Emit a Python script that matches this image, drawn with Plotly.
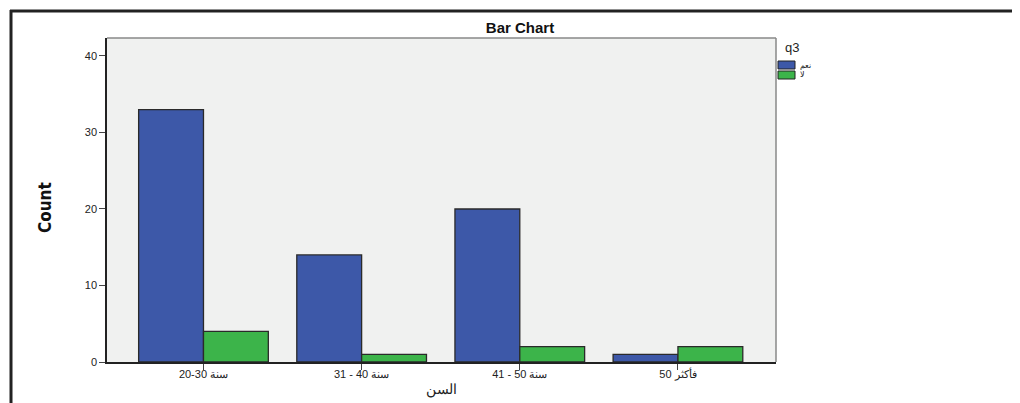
import plotly.graph_objects as go

categories = ["20-30 سنة", "31 - 40 سنة", "41 - 50 سنة", "50 فأكثر"]
yes_counts = [33, 14, 20, 1]
no_counts = [4, 1, 2, 2]
series_names = ["نعم", "لا"]
series_colors = ["#3d58a8", "#3cb44a"]
y_ticks = [0, 10, 20, 30, 40]

OFF = 8  # default page body margin
W, H = 1020 - OFF, 403 - OFF
L, T = 107 - OFF, 38 - OFF
R = W - (776 - OFF)
B = H - (362 - OFF)

def px_x(px):
    return (px - OFF - L) / (W - L - R)

def px_y(py):
    return (H - B - (py - OFF)) / (H - T - B)

fig = go.Figure()
for name, vals, col in zip(series_names, [yes_counts, no_counts], series_colors):
    fig.add_trace(go.Bar(x=categories, y=vals, name=name,
                         marker=dict(color=col, line=dict(color="#2a2a2a", width=1.3))))

fig.update_layout(
    width=W, height=H,
    margin=dict(l=L, r=R, t=T, b=B),
    paper_bgcolor="white",
    plot_bgcolor="#f0f1f0",
    barmode="group",
    bargap=0.18,
    bargroupgap=0,
    title=dict(text="<b>Bar Chart</b>", xref="paper", x=px_x(520), xanchor="center",
               yref="container", y=1 - (28 - OFF) / H, yanchor="middle",
               font=dict(family="Liberation Sans, Arial", size=15, color="#111111")),
    font=dict(family="Liberation Sans, Arial", color="#222222"),
    showlegend=False,
    xaxis=dict(
        range=[-0.61, 3.62],
        automargin=False,
        showline=True, linecolor="#222222", linewidth=1.5,
        ticks="outside", ticklen=6, tickcolor="#444444",
        ticklabelstandoff=-5,
        tickfont=dict(size=11, color="#222222"),
        title=dict(text="السن", font=dict(size=14, color="#222222"), standoff=4),
        showgrid=False,
    ),
    yaxis=dict(
        range=[0, 42.35],
        automargin=False,
        tickvals=y_ticks,
        showline=True, linecolor="#222222", linewidth=1.5,
        ticks="outside", ticklen=6, tickcolor="#444444",
        tickfont=dict(size=11, color="#222222"),
        showgrid=False, zeroline=False,
    ),
)

# y-axis title, placed like SPSS (slightly below centre)
fig.add_annotation(text="<b>Count</b>", xref="paper", yref="paper", x=px_x(45), y=px_y(208),
                   xanchor="center", yanchor="middle", textangle=-90, showarrow=False,
                   font=dict(family="Liberation Sans Narrow, DejaVu Sans Condensed, Liberation Sans",
                             size=17, color="#111111"))

# plot area top and right borders (grey)
fig.add_shape(type="line", xref="paper", yref="paper", x0=0, x1=1, y0=1, y1=1,
              line=dict(color="#888888", width=1.5))
fig.add_shape(type="line", xref="paper", yref="paper", x0=1, x1=1, y0=0, y1=1,
              line=dict(color="#888888", width=1.5))
# outer frame (top and left dark lines)
fig.add_shape(type="line", xref="paper", yref="paper", x0=px_x(10), x1=px_x(1030),
              y0=px_y(11), y1=px_y(11), line=dict(color="#222222", width=3))
fig.add_shape(type="line", xref="paper", yref="paper", x0=px_x(11), x1=px_x(11),
              y0=px_y(10), y1=px_y(420), line=dict(color="#222222", width=3))

# compact legend (SPSS style)
fig.add_annotation(text="q3", xref="paper", yref="paper", x=px_x(783), y=px_y(47),
                   xanchor="left", yanchor="middle", showarrow=False,
                   font=dict(size=13, color="#222222"))
for i, (name, col) in enumerate(zip(series_names, series_colors)):
    y0 = 61 + i * 10
    fig.add_shape(type="rect", xref="paper", yref="paper",
                  x0=px_x(778), x1=px_x(795), y0=px_y(y0), y1=px_y(y0 + 8),
                  fillcolor=col, line=dict(color="#222222", width=1))
    fig.add_annotation(text=name, xref="paper", yref="paper", x=px_x(798), y=px_y(y0 + 4),
                       xanchor="left", yanchor="middle", showarrow=False,
                       font=dict(size=8, color="#222222"))

fig.write_html("out.html")
